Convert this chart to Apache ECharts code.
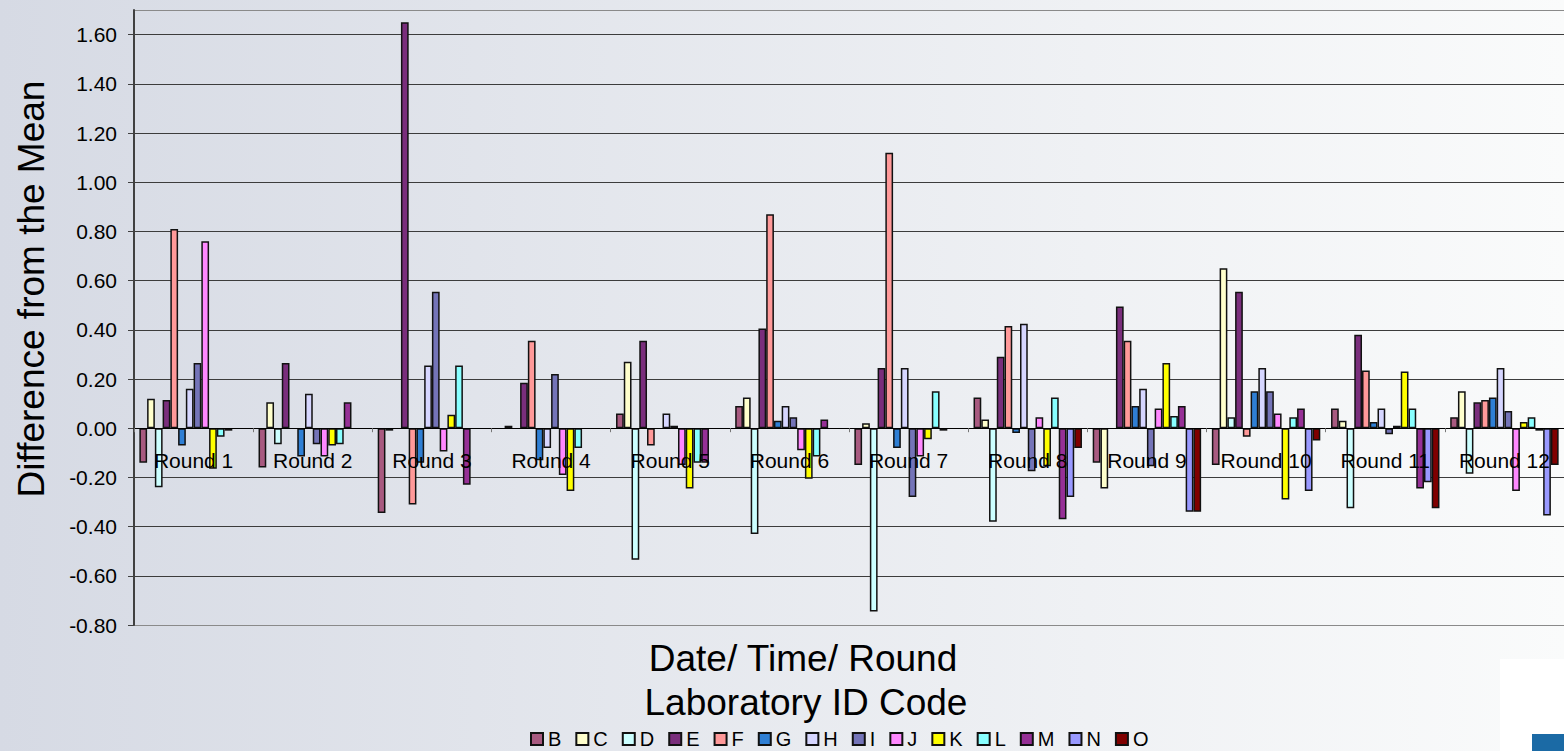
<!DOCTYPE html>
<html>
<head>
<meta charset="utf-8">
<script src="https://cdn.jsdelivr.net/npm/echarts@6/dist/echarts.min.js"></script>
<style>
html,body{margin:0;padding:0;width:1564px;height:751px;overflow:hidden;}
#chart{width:1564px;height:751px;}
</style>
</head>
<body>
<div id="chart"></div>
<script>
const rounds = ['Round 1','Round 2','Round 3','Round 4','Round 5','Round 6','Round 7','Round 8','Round 9','Round 10','Round 11','Round 12'];
const labs = ['B','C','D','E','F','G','H','I','J','K','L','M','N','O'];
const yTicks = {min: -0.8, max: 1.7, interval: 0.2};

const labB = [-0.14, -0.16, -0.345, null, 0.06, 0.09, -0.15, 0.125, -0.14, -0.15, 0.08, 0.045];
const labC = [0.12, 0.105, -0.01, 0.01, 0.27, 0.125, 0.02, 0.035, -0.245, 0.65, 0.03, 0.15];
const labD = [-0.24, -0.065, null, null, -0.535, -0.43, -0.745, -0.38, null, 0.045, -0.325, -0.185];
const labE = [0.115, 0.265, 1.65, 0.185, 0.355, 0.405, 0.245, 0.29, 0.495, 0.555, 0.38, 0.105];
const labF = [0.81, null, -0.31, 0.355, -0.07, 0.87, 1.12, 0.415, 0.355, -0.035, 0.235, 0.115];
const labG = [-0.07, -0.115, -0.14, -0.13, null, 0.03, -0.08, -0.02, 0.09, 0.15, 0.025, 0.125];
const labH = [0.16, 0.14, 0.255, -0.08, 0.06, 0.09, 0.245, 0.425, 0.16, 0.245, 0.08, 0.245];
const labI = [0.265, -0.065, 0.555, 0.22, 0.01, 0.045, -0.28, -0.175, -0.155, 0.15, -0.025, 0.07];
const labJ = [0.76, -0.115, -0.095, -0.19, -0.15, -0.09, -0.115, 0.045, 0.08, 0.06, 0.01, -0.255];
const labK = [-0.165, -0.07, 0.055, -0.255, -0.245, -0.205, -0.045, -0.155, 0.265, -0.29, 0.23, 0.025];
const labL = [-0.035, -0.065, 0.255, -0.08, -0.14, -0.115, 0.15, 0.125, 0.05, 0.045, 0.08, 0.045];
const labM = [-0.01, 0.105, -0.23, null, -0.14, 0.035, -0.01, -0.37, 0.09, 0.08, -0.245, -0.01];
const labN = [null, null, null, null, null, null, null, -0.28, -0.34, -0.255, -0.22, -0.355];
const labO = [null, null, null, null, null, null, null, -0.08, -0.34, -0.05, -0.325, -0.15];

const labValues = [labB, labC, labD, labE, labF, labG, labH, labI, labJ, labK, labL, labM, labN, labO];
const labColors = ['#a85a80','#ffffcc','#ccffff','#7a2e7c','#ff9999','#2f7fd4','#d6d6ff','#7474b8','#ff88ff','#ffff00','#88ffff','#963096','#9999ff','#800000'];

const FONT = 'Liberation Sans, Arial, sans-serif';
const chart = echarts.init(document.getElementById('chart'), null, {renderer: 'svg'});

const GRID_TOP = 10, GRID_BOTTOM = 126, H = 751;
const plotH = H - GRID_TOP - GRID_BOTTOM;
// distance from the bottom of the plot to the zero line, derived from the axis range
const zeroOffset = plotH * (0 - yTicks.min) / (yTicks.max - yTicks.min);

const splitColors = [];
for (let i = 0; i < 14; i++) splitColors.push(i === 0 || i === 13 ? '#8a8a8a' : '#3c3c3c');

const series = labs.map((name, i) => ({
  name: name,
  type: 'bar',
  data: labValues[i],
  barGap: '0%',
  barCategoryGap: '9%',
  itemStyle: {color: labColors[i], borderColor: '#111', borderWidth: 1.5},
  emphasis: {disabled: true}
}));

chart.setOption({
  animation: false,
  backgroundColor: {
    type: 'linear', x: 0, y: 0, x2: 1, y2: 0,
    colorStops: [{offset: 0, color: '#d6dae4'}, {offset: 1, color: '#fafbfb'}]
  },
  grid: {left: 134, right: -2, top: GRID_TOP, bottom: GRID_BOTTOM, containLabel: false},
  legend: {
    data: labs,
    left: 530,
    top: 729,
    padding: 0,
    icon: 'rect',
    itemWidth: 12,
    itemHeight: 12,
    itemGap: 14,
    textStyle: {fontFamily: FONT, fontSize: 20, color: '#000'}
  },
  xAxis: {
    type: 'category',
    data: rounds,
    z: 10,
    offset: -zeroOffset,
    axisLine: {onZero: false, lineStyle: {color: '#000', width: 1}},
    axisTick: {show: true, length: 4, lineStyle: {color: '#777'}},
    axisLabel: {interval: 0, fontFamily: FONT, fontSize: 21, color: '#000', margin: 22},
    splitLine: {show: false}
  },
  yAxis: {
    type: 'value',
    min: yTicks.min,
    max: yTicks.max,
    interval: yTicks.interval,
    axisLine: {show: true, lineStyle: {color: '#404040', width: 2}},
    axisTick: {show: true, length: 6, lineStyle: {color: '#404040'}},
    axisLabel: {
      fontFamily: FONT, fontSize: 21, color: '#000', margin: 17,
      showMaxLabel: false,
      formatter: v => (v > 1.65 ? '' : v.toFixed(2))
    },
    splitLine: {show: true, lineStyle: {color: splitColors, width: 1}}
  },
  graphic: [
    {type: 'text', x: 31, y: 289, rotation: Math.PI / 2,
     style: {text: 'Difference from the Mean', font: '37px ' + FONT, fill: '#000', textAlign: 'center', textVerticalAlign: 'middle'}},
    {type: 'text', x: 803, y: 658,
     style: {text: 'Date/ Time/ Round', font: '37px ' + FONT, fill: '#000', textAlign: 'center', textVerticalAlign: 'middle'}},
    {type: 'text', x: 806, y: 702,
     style: {text: 'Laboratory ID Code', font: '37px ' + FONT, fill: '#000', textAlign: 'center', textVerticalAlign: 'middle'}},
    {type: 'rect', shape: {x: 1500, y: 659, width: 64, height: 92}, style: {fill: '#ffffff'}, z: -1},
    {type: 'rect', shape: {x: 1532, y: 734, width: 32, height: 17}, style: {fill: '#1b6aa5'}, z: -1}
  ],
  series: series
});
</script>
</body>
</html>
